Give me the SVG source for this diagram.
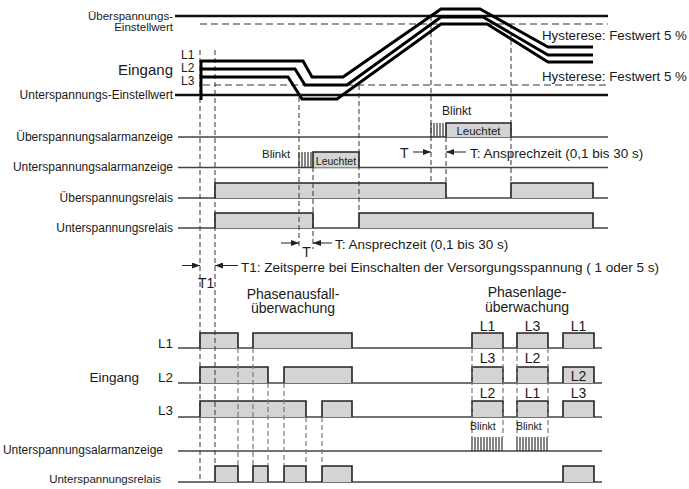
<svg xmlns="http://www.w3.org/2000/svg" width="689" height="489" viewBox="0 0 689 489">
<defs>
<style>
.t{font-family:"Liberation Sans",Arial,Helvetica,sans-serif;fill:#1a1a1a}
.e{text-anchor:end}
.m{text-anchor:middle}
.base{stroke:#444;stroke-width:1.3;fill:none}
.lvl{stroke:#111;stroke-width:2.6;fill:none}
.hys{stroke:#333;stroke-width:1.2;stroke-dasharray:7 4;fill:none}
.vd{stroke:#333;stroke-width:1;stroke-dasharray:5 3;fill:none}
.vg{stroke:#777;stroke-width:1.2;stroke-dasharray:5 3;fill:none}
.in{stroke:#000;stroke-width:3;fill:none;stroke-linejoin:miter}
.box{fill:#d4d4d4;stroke:#222;stroke-width:1.6}
.hatch{stroke:#222;stroke-width:1.1}
.arr{stroke:#222;stroke-width:1;fill:none}
</style>
<marker id="ah" viewBox="0 0 8 6" refX="8" refY="3" markerWidth="8" markerHeight="6" orient="auto" markerUnits="userSpaceOnUse"><path d="M0,0 L8,3 L0,6 z" fill="#222"/></marker>
</defs>
<rect width="689" height="489" fill="#fff"/>

<g id="baselines">
<path class="base" d="M178,137 H608 M178,167.5 H608 M178,198 H608 M178,228 H608"/>
<path class="base" d="M178,348 H602 M178,383 H602 M178,417 H602 M178,451 H602 M178,482 H602"/>
</g>

<g id="levels">
<path class="lvl" d="M175,16 H608"/>
<path class="hys" d="M200,24 H608"/>
<path class="hys" d="M203,85 H608"/>
<path class="lvl" d="M175,95 H608"/>
</g>

<g id="pulses">
<path class="box" d="M215,198 V183 H446 V198"/>
<path class="box" d="M511,198 V183 H593 V198"/>
<path class="box" d="M215,228 V213 H313 V228"/>
<path class="box" d="M359,228 V213 H593 V228"/>
<path class="box" d="M446,137 V123 H511 V137"/>
<path class="box" d="M313,167.5 V152 H359 V167.5"/>
<path class="box" d="M200,348 V333 H238 V348"/>
<path class="box" d="M253,348 V333 H352 V348"/>
<path class="box" d="M472,348 V333 H503 V348"/>
<path class="box" d="M517,348 V333 H548 V348"/>
<path class="box" d="M563,348 V333 H594 V348"/>
<path class="box" d="M200,383 V367 H268 V383"/>
<path class="box" d="M284,383 V367 H352 V383"/>
<path class="box" d="M472,383 V367 H503 V383"/>
<path class="box" d="M517,383 V367 H548 V383"/>
<path class="box" d="M563,383 V367 H594 V383"/>
<path class="box" d="M200,417 V401 H306 V417"/>
<path class="box" d="M322,417 V401 H352 V417"/>
<path class="box" d="M472,417 V401 H503 V417"/>
<path class="box" d="M517,417 V401 H548 V417"/>
<path class="box" d="M563,417 V401 H594 V417"/>
<path class="box" d="M215,482 V466 H238 V482"/>
<path class="box" d="M253,482 V466 H268 V482"/>
<path class="box" d="M284,482 V466 H306 V482"/>
<path class="box" d="M322,482 V466 H352 V482"/>
<path class="box" d="M563,482 V466 H594 V482"/>
</g>

<g id="blink">
<path class="hatch" d="M431,123 V137 M434,123 V137 M437,123 V137 M440,123 V137 M443,123 V137"/>
<path class="hatch" d="M299,152 V167.5 M302,152 V167.5 M305,152 V167.5 M308,152 V167.5 M311,152 V167.5"/>
<path class="hatch" d="M472,437 V451 M475,437 V451 M478,437 V451 M481,437 V451 M484,437 V451 M487,437 V451 M490,437 V451 M493,437 V451 M496,437 V451 M499,437 V451 M502,437 V451"/>
<path class="hatch" d="M517,437 V451 M520,437 V451 M523,437 V451 M526,437 V451 M529,437 V451 M532,437 V451 M535,437 V451 M538,437 V451 M541,437 V451 M544,437 V451 M547,437 V451"/>
</g>

<g id="connectors">
<path class="vd" d="M200,50 V482 M215,50 V466 M299,97 V249 M313,167 V249 M359,85 V213 M431,16 V183 M446,137 V183 M511,24 V183"/>
<path class="vg" d="M238,348 V466 M253,348 V466 M268,383 V466 M284,383 V466 M306,417 V466 M322,417 V466"/>
<path class="vg" d="M472,348 V437 M503,348 V437 M517,348 V437 M548,348 V437"/>
<path class="arr" marker-end="url(#ah)" d="M413,152 H431"/>
<path class="arr" marker-end="url(#ah)" d="M466,152 H446"/>
<path class="arr" marker-end="url(#ah)" d="M281,243 H299"/>
<path class="arr" marker-end="url(#ah)" d="M332,243 H313"/>
<path class="arr" marker-end="url(#ah)" d="M182,265.5 H200"/>
<path class="arr" marker-end="url(#ah)" d="M238,265.5 H215"/>
</g>

<g id="inputs">
<path class="in" d="M201,61 H303 L312,77 H343 L441,9 H480 L548,47 H593"/>
<path class="in" d="M201,69 H295 L305,85 H347 L441,17 H483 L548,55 H593"/>
<path class="in" d="M201,77 H288 L302,99 H337 L441,24 H487 L548,62 H593"/>
<path class="in" d="M201,60 V100"/>
</g>

<g id="labels">
<text class="t e" x="173" y="19.5" font-size="11.5">Überspannungs-</text>
<text class="t e" x="173" y="31" font-size="11.5">Einstellwert</text>
<text class="t e" x="173" y="75" font-size="15">Eingang</text>
<text class="t" x="181" y="58.5" font-size="12">L1</text>
<text class="t" x="181" y="71.5" font-size="12">L2</text>
<text class="t" x="181" y="84.5" font-size="12">L3</text>
<text class="t e" x="173" y="99" font-size="12">Unterspannungs-Einstellwert</text>
<text class="t" x="542" y="40" font-size="13.3">Hysterese: Festwert 5 %</text>
<text class="t" x="542" y="81" font-size="13.3">Hysterese: Festwert 5 %</text>
<text class="t e" x="173" y="140.5" font-size="12">Überspannungsalarmanzeige</text>
<text class="t e" x="173" y="171" font-size="12">Unterspannungsalarmanzeige</text>
<text class="t e" x="173" y="201.5" font-size="12">Überspannungsrelais</text>
<text class="t e" x="173" y="231.5" font-size="12">Unterspannungsrelais</text>
<text class="t" x="442" y="114.5" font-size="12">Blinkt</text>
<text class="t m" x="478.5" y="134.5" font-size="11.5">Leuchtet</text>
<text class="t" x="262" y="157.5" font-size="11.5">Blinkt</text>
<text class="t m" x="336" y="164.5" font-size="10.5">Leuchtet</text>
<text class="t" x="400" y="158" font-size="14">T</text>
<text class="t" x="470" y="157.5" font-size="13.5">T: Ansprechzeit (0,1 bis 30 s)</text>
<text class="t m" x="306.5" y="257" font-size="14">T</text>
<text class="t" x="335" y="249" font-size="13.5">T: Ansprechzeit (0,1 bis 30 s)</text>
<text class="t" x="241" y="271.5" font-size="13.5">T1: Zeitsperre bei Einschalten der Versorgungsspannung ( 1 oder 5 s)</text>
<text class="t" x="198" y="288" font-size="14">T1</text>
<text class="t m" x="293" y="298.5" font-size="14">Phasenausfall-</text>
<text class="t m" x="293" y="313" font-size="14">überwachung</text>
<text class="t m" x="527" y="297" font-size="14">Phasenlage-</text>
<text class="t m" x="527" y="312" font-size="14">überwachung</text>
<text class="t m" x="487.5" y="331" font-size="14">L1</text>
<text class="t m" x="532.5" y="331" font-size="14">L3</text>
<text class="t m" x="578.5" y="331" font-size="14">L1</text>
<text class="t m" x="487.5" y="363" font-size="14">L3</text>
<text class="t m" x="532.5" y="363" font-size="14">L2</text>
<text class="t m" x="578.5" y="380.5" font-size="14">L2</text>
<text class="t m" x="487.5" y="397.5" font-size="14">L2</text>
<text class="t m" x="532.5" y="397.5" font-size="14">L1</text>
<text class="t m" x="578.5" y="397.5" font-size="14">L3</text>
<text class="t" x="470" y="430" font-size="10.5">Blinkt</text>
<text class="t" x="516" y="430" font-size="10.5">Blinkt</text>
<text class="t e" x="173" y="348" font-size="13.5">L1</text>
<text class="t e" x="139" y="381.5" font-size="13.5">Eingang</text>
<text class="t e" x="173" y="381.5" font-size="13.5">L2</text>
<text class="t e" x="173" y="415" font-size="13.5">L3</text>
<text class="t e" x="163" y="454" font-size="12">Unterspannungsalarmanzeige</text>
<text class="t e" x="161" y="482.5" font-size="11.5">Unterspannungsrelais</text>
</g>
</svg>
